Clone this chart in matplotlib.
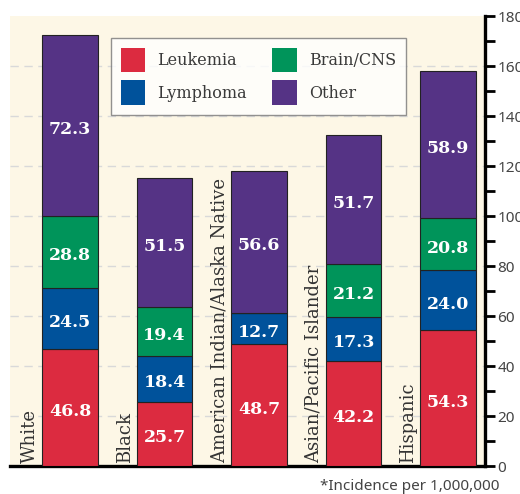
import matplotlib
matplotlib.use("Agg")
import matplotlib.pyplot as plt
import numpy as np
from matplotlib.patches import Patch
from matplotlib.ticker import MultipleLocator

groups = ["White", "Black", "American Indian/Alaska Native",
          "Asian/Pacific Islander", "Hispanic"]
series = ["Leukemia", "Lymphoma", "Brain/CNS", "Other"]
leukemia = [46.8, 25.7, 48.7, 42.2, 54.3]
lymphoma = [24.5, 18.4, 12.7, 17.3, 24.0]
brain_cns = [28.8, 19.4, 0.0, 21.2, 20.8]
other = [72.3, 51.5, 56.6, 51.7, 58.9]
colors = ["#dc2b40", "#00529b", "#00945a", "#553385"]
footnote = "*Incidence per 1,000,000"

values = [leukemia, lymphoma, brain_cns, other]

fig = plt.figure(figsize=(5.2, 4.94), dpi=100)
W, H = 520, 494
ax = fig.add_axes([10 / W, 1 - 466 / H, 475 / W, 450 / H])
ax.set_facecolor("#fdf7e6")

x = np.arange(len(groups))
bar_w = 0.59
bottom = np.zeros(len(groups))
for vals, col in zip(values, colors):
    vals = np.array(vals)
    ax.bar(x, vals, bar_w, bottom=bottom, color=col, edgecolor="#222222",
           linewidth=0.8, zorder=3)
    for xi, b, v in zip(x, bottom, vals):
        if v > 0:
            ax.text(xi, b + v / 2 - 1.6, f"{v:.1f}", ha="center", va="center",
                    color="white", fontsize=12.5, fontweight="bold",
                    family="DejaVu Serif", zorder=4)
    bottom += vals

for xi, g in zip(x, groups):
    ax.text(xi - 0.42, 1.2, g, rotation=90, ha="center", va="bottom",
            fontsize=13, family="DejaVu Serif", color="#333333", zorder=4)

ax.set_xlim(-0.635, 4.39)
ax.set_ylim(0, 180)
ax.set_xticks([])

ax.yaxis.tick_right()
ax.yaxis.set_major_locator(MultipleLocator(20))
ax.yaxis.set_minor_locator(MultipleLocator(10))
ax.tick_params(axis="y", which="major", length=7, width=2, pad=2,
               labelsize=11, labelcolor="#444444", color="black")
ax.tick_params(axis="y", which="minor", length=7, width=2, color="black")
for lab in ax.get_yticklabels():
    lab.set_family("Noto Sans")

for yv in range(20, 180, 20):
    ax.axhline(yv, color="#d9d9d9", lw=1, ls=(0, (6, 4)), zorder=1)

for s in ["top", "left"]:
    ax.spines[s].set_visible(False)
ax.spines["right"].set_linewidth(2.4)
ax.spines["bottom"].set_linewidth(2.4)

handles = [Patch(facecolor=c, edgecolor="none") for c in colors]
leg = ax.legend(handles, series, ncol=2, loc="upper left",
                bbox_to_anchor=(0.2126, 0.951), frameon=True, fancybox=False,
                prop={"family": "DejaVu Serif", "size": 11.5},
                handlelength=1.55, handleheight=2.0, handletextpad=0.75,
                columnspacing=1.6, labelspacing=0.5, borderpad=0.6,
                borderaxespad=0)
leg.get_frame().set_edgecolor("#777777")
leg.get_frame().set_linewidth(1.0)
leg.set_zorder(5)
for t in leg.get_texts():
    t.set_color("#3a3a3a")

fig.text(500 / W, 1 - 486 / H, footnote, ha="right", va="center",
         fontsize=11, family="Noto Sans", color="#444444")

fig.savefig("out.png", dpi=100, facecolor="white")
